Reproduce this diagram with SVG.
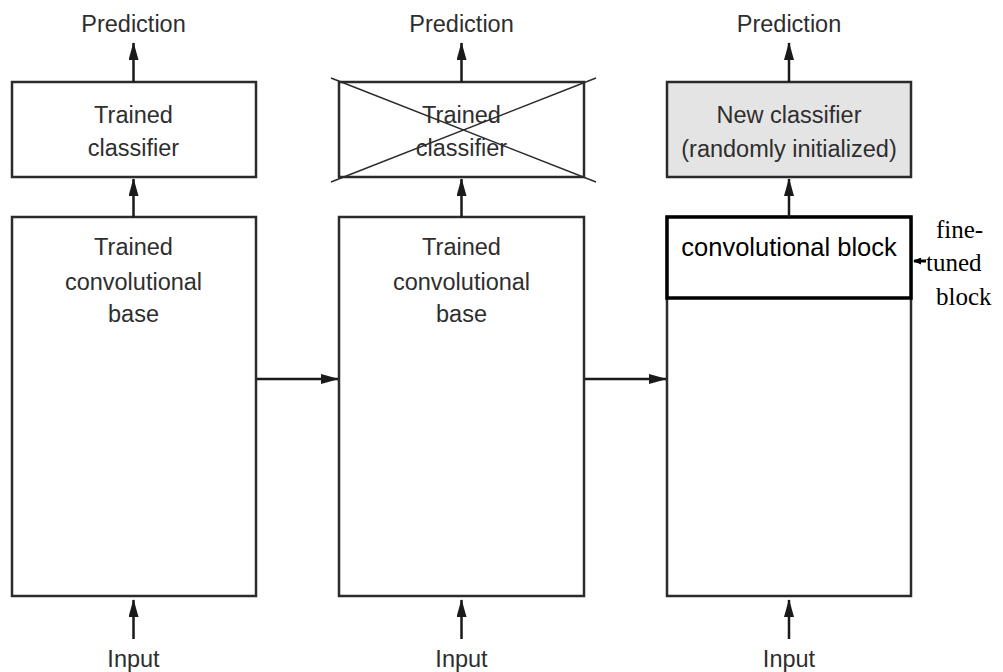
<svg xmlns="http://www.w3.org/2000/svg" width="1003" height="672" viewBox="0 0 1003 672">
  <defs>
    <marker id="arrowLong" markerWidth="18" markerHeight="10" refX="17" refY="5" orient="auto" markerUnits="userSpaceOnUse" viewBox="0 0 18 10">
      <path d="M0,0 L18,5 L0,10 Z" fill="#1a1a1a"/>
    </marker>
    <marker id="arrowSmall" markerWidth="8" markerHeight="7" refX="7" refY="3.5" orient="auto" markerUnits="userSpaceOnUse" viewBox="0 0 8 7">
      <path d="M0,0 L8,3.5 L0,7 Z" fill="#000"/>
    </marker>
  </defs>
  <style>
    .box { fill: #ffffff; stroke: #2b2b2b; stroke-width: 2.5; }
    .shaded { fill: #e4e4e4; }
    .bold { stroke: #000; stroke-width: 3.5; fill: #fff; }
    .lbl { font-family: "Liberation Sans", Arial, sans-serif; font-size: 23.5px; fill: #2e2e2e; text-anchor: middle; }
    .blk { font-family: "Liberation Sans", Arial, sans-serif; font-size: 25.5px; fill: #000; text-anchor: middle; }
    .note { font-family: "Liberation Serif", "Times New Roman", serif; font-size: 25px; fill: #000; }
    .conn { stroke: #1a1a1a; stroke-width: 2.5; fill: none; }
    .cross { stroke: #2b2b2b; stroke-width: 1.5; fill: none; }
  </style>
  <rect width="1003" height="672" fill="#fff"/>

  <!-- column 1: original model -->
  <g id="pred1"><text class="lbl" x="133.5" y="32">Prediction</text></g>
  <g id="classifier1">
    <rect class="box" x="12" y="82" width="244" height="95"/>
    <text class="lbl" x="133.5" y="123">Trained</text>
    <text class="lbl" x="133.5" y="156">classifier</text>
  </g>
  <g id="base1">
    <rect class="box" x="12" y="217" width="244" height="379"/>
    <text class="lbl" x="133.5" y="255">Trained</text>
    <text class="lbl" x="133.5" y="290">convolutional</text>
    <text class="lbl" x="133.5" y="322">base</text>
  </g>
  <g id="input1"><text class="lbl" x="133.5" y="667">Input</text></g>

  <!-- column 2: classifier discarded -->
  <g id="pred2"><text class="lbl" x="461.5" y="32">Prediction</text></g>
  <g id="classifier2">
    <rect class="box" x="339" y="82" width="245" height="95"/>
    <text class="lbl" x="461.5" y="123">Trained</text>
    <text class="lbl" x="461.5" y="156">classifier</text>
    <line class="cross" x1="331" y1="78" x2="596" y2="182"/>
    <line class="cross" x1="331" y1="182" x2="596" y2="78"/>
  </g>
  <g id="base2">
    <rect class="box" x="339" y="217" width="245" height="379"/>
    <text class="lbl" x="461.5" y="255">Trained</text>
    <text class="lbl" x="461.5" y="290">convolutional</text>
    <text class="lbl" x="461.5" y="322">base</text>
  </g>
  <g id="input2"><text class="lbl" x="461.5" y="667">Input</text></g>

  <!-- column 3: new classifier with fine-tuned block -->
  <g id="pred3"><text class="lbl" x="789" y="32">Prediction</text></g>
  <g id="classifier3">
    <rect class="box shaded" x="667" y="82" width="244" height="95"/>
    <text class="lbl" x="789" y="123">New classifier</text>
    <text class="lbl" x="789" y="157">(randomly initialized)</text>
  </g>
  <g id="base3">
    <rect class="box" x="667" y="217" width="244" height="379"/>
  </g>
  <g id="convblock">
    <rect class="bold" x="667" y="217" width="244" height="81"/>
    <text class="blk" x="789" y="256">convolutional block</text>
  </g>
  <g id="input3"><text class="lbl" x="789" y="667">Input</text></g>
  <g id="finetuned-note">
    <text class="note" x="936" y="238">fine-</text>
    <text class="note" x="926" y="271">tuned</text>
    <text class="note" x="936" y="305">block</text>
  </g>

  <!-- connectors -->
  <g id="connectors">
    <line class="conn" x1="133.5" y1="82" x2="133.5" y2="43" marker-end="url(#arrowLong)"/>
    <line class="conn" x1="133.5" y1="217" x2="133.5" y2="179" marker-end="url(#arrowLong)"/>
    <line class="conn" x1="133.5" y1="639" x2="133.5" y2="600" marker-end="url(#arrowLong)"/>

    <line class="conn" x1="461.5" y1="82" x2="461.5" y2="43" marker-end="url(#arrowLong)"/>
    <line class="conn" x1="461.5" y1="217" x2="461.5" y2="179" marker-end="url(#arrowLong)"/>
    <line class="conn" x1="461.5" y1="639" x2="461.5" y2="600" marker-end="url(#arrowLong)"/>

    <line class="conn" x1="789" y1="82" x2="789" y2="43" marker-end="url(#arrowLong)"/>
    <line class="conn" x1="789" y1="217" x2="789" y2="179" marker-end="url(#arrowLong)"/>
    <line class="conn" x1="789" y1="639" x2="789" y2="600" marker-end="url(#arrowLong)"/>

    <line class="conn" x1="257" y1="379" x2="338" y2="379" marker-end="url(#arrowLong)"/>
    <line class="conn" x1="585" y1="379" x2="666" y2="379" marker-end="url(#arrowLong)"/>

    <line stroke="#000" stroke-width="3" x1="926" y1="261" x2="914" y2="261" marker-end="url(#arrowSmall)"/>
  </g>
</svg>
